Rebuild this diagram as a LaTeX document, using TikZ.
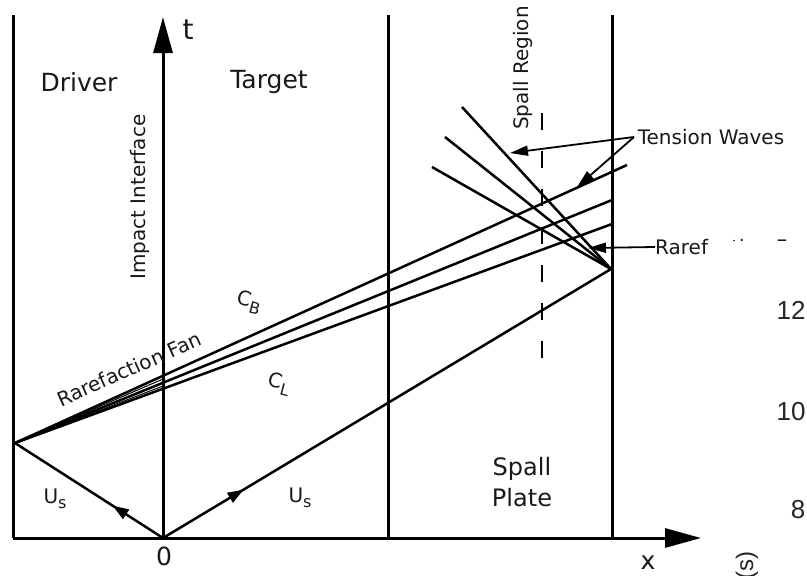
\documentclass[tikz,border=0pt]{standalone}
\usepackage{fontspec}
\setmainfont{DejaVu Sans}
\newfontfamily\numfont{Liberation Sans}
\usetikzlibrary{arrows.meta,decorations.markings}
\begin{document}
\begin{tikzpicture}[x=1pt,y=-1pt,
  wall/.style={line width=3pt,black},
  wave/.style={line width=2.5pt,black},
  fanthin/.style={line width=1pt,black},
  pointer/.style={line width=1.8pt,black,-{Triangle[length=18pt,width=10pt]}},
  axisarrow/.style={line width=3pt,black,-{Triangle[length=36pt,width=19pt]}},
  lbl/.style={inner sep=0pt,text=black!90},
  big/.style={lbl,font=\fontsize{25}{30}\selectfont},
  mid/.style={lbl,font=\fontsize{20}{24}\selectfont},
  num/.style={inner sep=0pt,text=black!85,font=\numfont\fontsize{26}{30}\selectfont},
  spallline/.style={line width=2.2pt,black,dash pattern=on 17pt off 21pt}
]
\useasboundingbox (0,0) rectangle (807,576);
% key points
\coordinate (O) at (163,538);
\coordinate (V) at (15,443);
\coordinate (S) at (611,269);
\coordinate (tTop) at (163,17);
\coordinate (xEnd) at (701,538);
\coordinate (lwT) at (13,15);  \coordinate (lwB) at (13,538);
\coordinate (mwT) at (388,15); \coordinate (mwB) at (388,538);
\coordinate (rwT) at (612,15); \coordinate (rwB) at (612,538);
% walls
\draw[wall] (lwT) -- (lwB);
\draw[wall] (mwT) -- (mwB);
\draw[wall] (rwT) -- (rwB);
% axes
\draw[axisarrow] (O) -- (tTop);
\draw[axisarrow] (lwB) -- (xEnd);
% shock fronts
\draw[wave,postaction={decorate},decoration={markings,
  mark=at position 0.34 with {\arrow{Triangle[length=16pt,width=11pt]}}}] (O) -- (V);
\draw[wave,postaction={decorate},decoration={markings,
  mark=at position 0.18 with {\arrow{Triangle[length=16pt,width=11pt]}}}] (O) -- (S);
% rarefaction fan
\coordinate (f1) at (627,165);
\coordinate (f2) at (612,200);
\coordinate (f3) at (612,224);
\coordinate (fa) at (163,379);
\coordinate (fb) at (163,386);
\draw[wave] (V) -- (f1);
\draw[wave] (V) -- (f2);
\draw[wave] (V) -- (f3);
\draw[fanthin] (V) -- (fa);
\draw[fanthin] (V) -- (fb);
% tension waves
\coordinate (w1) at (462,107);
\coordinate (w2) at (445,137);
\coordinate (w3) at (432,167);
\draw[wave] (S) -- (w1);
\draw[wave] (S) -- (w2);
\draw[wave] (S) -- (w3);
% spall region dashed line
\coordinate (dT) at (542,113);
\coordinate (dB) at (542,358);
\draw[spallline] (dT) -- (dB);
% labels
\node[big] (driver) at (79,82) {Driver};
\node[big] (target) at (269,82) {Target};
\node[lbl,font=\fontsize{28}{30}\selectfont] (tlab) at (188,30) {t};
\node[big] (zero) at (164,556) {0};
\node[big] (xlab) at (648,563) {x};
\node[mid,rotate=90] (impact) at (140,197) {Impact Interface};
\node[mid,rotate=90] (spallreg) at (523,68) {Spall Region};
\node[mid] (tension) at (711,137) {Tension Waves};
\node[mid,rotate=24] (fanleft) at (129,369) {Rarefaction Fan};
\node[mid,rotate=-15] (cb) at (249,302) {C\raisebox{-0.5ex}{\fontsize{16}{16}\selectfont B}};
\node[mid,rotate=-15] (cl) at (279,384) {C\raisebox{-0.5ex}{\fontsize{16}{16}\selectfont L}};
\node[mid] (usl) at (55,499) {U\raisebox{-0.5ex}{\fontsize{16}{16}\selectfont s}};
\node[mid] (usr) at (300,498) {U\raisebox{-0.5ex}{\fontsize{16}{16}\selectfont s}};
\node[big,align=center,font=\fontsize{24}{31}\selectfont] (plate) at (522,482) {Spall\\Plate};
\node[mid,anchor=west] (fanright) at (655,247) {Rarefaction Fan};
% pointers
\coordinate (twA) at (634,137);
\coordinate (tip1) at (510,153);
\coordinate (tip2) at (577,187);
\coordinate (tip3) at (588,248);
\draw[pointer] (twA) -- (tip1);
\draw[pointer] (twA) -- (tip2);
\draw[pointer] (fanright.west) -- (tip3);
% overlapping panel
\fill[white] (709,240.5) rectangle (807,576);
\node[num] (n12) at (791,310) {12};
\node[num] (n10) at (791,412) {10};
\node[num] (n8) at (798,510) {8};
\node[num,rotate=90,anchor=east,font=\numfont\fontsize{24}{28}\selectfont] (unit) at (747,551) {(s)};
\end{tikzpicture}
\end{document}
